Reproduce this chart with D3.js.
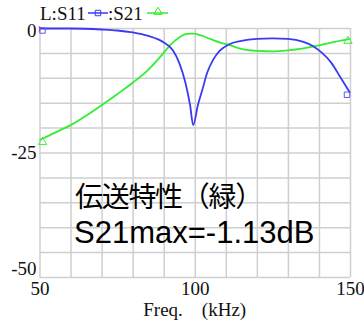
<!DOCTYPE html>
<html>
<head>
<meta charset="utf-8">
<script src="https://cdn.jsdelivr.net/npm/d3@7"></script>
<style>
  body { margin: 0; background: #fff; }
</style>
</head>
<body>
<div id="chart"></div>
<script>
// frequency (kHz) and S-parameters (dB)
const s11Freq = [50, 60, 70, 75, 80, 85, 90, 93, 95, 97, 98.5, 99.5, 101, 102.5, 104, 106, 108, 111, 115, 120, 125, 130, 135, 138, 141, 144, 147, 150];
const s11Db   = [-0.1, -0.1, -0.3, -0.5, -0.9, -1.6, -2.9, -4.5, -7, -11, -15.5, -19.5, -15.5, -12.3, -9, -6.3, -4.6, -3.3, -2.6, -2.2, -2.1, -2.2, -2.8, -3.6, -5, -7, -10, -13];
const s21Freq = [50, 55, 60, 65, 70, 75, 80, 85, 90, 92, 95, 97.5, 99.5, 102, 105, 108, 111, 115, 120, 125, 130, 135, 140, 145, 150];
const s21Db   = [-22.5, -21, -19.5, -17.6, -15.5, -13.3, -11, -8.4, -5, -3.5, -1.9, -1.2, -1.13, -1.5, -2.2, -2.9, -3.4, -4.2, -4.6, -4.7, -4.5, -4.1, -3.5, -2.8, -2.2];
const xTickLabels = [50, 100, 150];
const yTickLabels = [0, -25, -50];

const width = 364, height = 323;
const margin = {top: 28, right: 14, bottom: 46, left: 39.5};

const svg = d3.select("#chart").append("svg")
  .attr("width", width)
  .attr("height", height);

const x = d3.scaleLinear().domain([50, 150]).range([margin.left, width - margin.right]);
const y = d3.scaleLinear().domain([-50, 0]).range([height - margin.bottom, margin.top]);

const serif = "'Liberation Serif', 'DejaVu Serif', serif";

// grid
svg.append("g")
  .attr("transform", `translate(0,${y(-50)})`)
  .call(d3.axisBottom(x).tickValues(d3.range(50, 151, 10)).tickSize(-(y(-50) - y(0))).tickFormat(""))
  .call(g => g.select(".domain").remove())
  .call(g => g.selectAll("line").attr("stroke", "#cfcfcf").attr("stroke-width", 1.5));

svg.append("g")
  .attr("transform", `translate(${x(50)},0)`)
  .call(d3.axisLeft(y).tickValues(d3.range(-50, 1, 5)).tickSize(-(x(150) - x(50))).tickFormat(""))
  .call(g => g.select(".domain").remove())
  .call(g => g.selectAll("line").attr("stroke", "#cfcfcf").attr("stroke-width", 1.5));

// little red mark at the top-left corner
svg.append("line")
  .attr("x1", x(50)).attr("x2", x(50))
  .attr("y1", y(0) - 2).attr("y2", y(0) + 4)
  .attr("stroke", "#ff6060").attr("stroke-width", 1.5);

// tick labels
svg.append("g")
  .attr("transform", `translate(0,${y(-50)})`)
  .call(d3.axisBottom(x).tickValues(xTickLabels).tickSize(0).tickPadding(5))
  .call(g => g.select(".domain").remove())
  .call(g => g.selectAll("text").attr("font-family", serif).attr("font-size", 19).attr("fill", "#111"));

svg.append("g")
  .attr("transform", `translate(${x(50)},0)`)
  .call(d3.axisLeft(y).tickValues(yTickLabels).tickSize(0).tickPadding(3).tickFormat(d => d < 0 ? "-" + Math.abs(d) : d))
  .call(g => g.select(".domain").remove())
  .call(g => g.selectAll("text")
    .attr("font-family", serif).attr("font-size", 19).attr("fill", "#111")
    .attr("dy", d => d === -50 ? "-0.15em" : d === 0 ? "0.45em" : "0.3em"));

svg.append("text")
  .attr("x", x(100))
  .attr("y", 316)
  .attr("text-anchor", "middle")
  .attr("font-family", serif)
  .attr("font-size", 19)
  .attr("fill", "#111")
  .text("Freq.　(kHz)");

// curves
const s11 = s11Freq.map((f, i) => [f, s11Db[i]]);
const s21 = s21Freq.map((f, i) => [f, s21Db[i]]);

const line = d3.line()
  .x(d => x(d[0]))
  .y(d => y(d[1]))
  .curve(d3.curveMonotoneX);

svg.append("path")
  .datum(s21)
  .attr("fill", "none")
  .attr("stroke", "#33ee33")
  .attr("stroke-width", 1.8)
  .attr("d", line);

svg.append("path")
  .datum(s11)
  .attr("fill", "none")
  .attr("stroke", "#3a3af5")
  .attr("stroke-width", 1.8)
  .attr("d", line);

// end markers
const square = d3.symbol().type(d3.symbolSquare).size(30);
const triangle = d3.symbol().type(d3.symbolTriangle).size(30);

svg.append("g")
  .selectAll("path")
  .data([s11[0], s11[s11.length - 1]])
  .join("path")
  .attr("transform", (d, i) => `translate(${x(d[0]) + (i ? -3 : 3)},${y(d[1]) + 2})`)
  .attr("d", square)
  .attr("fill", "none")
  .attr("stroke", "#5a5af5")
  .attr("stroke-width", 1);

svg.append("g")
  .selectAll("path")
  .data([s21[0], s21[s21.length - 1]])
  .join("path")
  .attr("transform", (d, i) => `translate(${x(d[0]) + (i ? -2 : 3)},${y(d[1]) + 2})`)
  .attr("d", triangle)
  .attr("fill", "none")
  .attr("stroke", "#44ee44")
  .attr("stroke-width", 1);

// legend
const legend = svg.append("g")
  .attr("font-family", serif)
  .attr("font-size", 19)
  .attr("fill", "#111");

legend.append("text").attr("x", 40).attr("y", 20).text("L:S11");
legend.append("line").attr("x1", 88).attr("x2", 108).attr("y1", 13).attr("y2", 13)
  .attr("stroke", "#3a3af5").attr("stroke-width", 1.5);
legend.append("path").attr("transform", "translate(98,13)").attr("d", square)
  .attr("fill", "none").attr("stroke", "#3a3af5");
legend.append("text").attr("x", 108).attr("y", 20).text(":S21");
legend.append("line").attr("x1", 147).attr("x2", 168).attr("y1", 13).attr("y2", 13)
  .attr("stroke", "#33ee33").attr("stroke-width", 1.5);
legend.append("path").attr("transform", "translate(158,12)").attr("d", triangle)
  .attr("fill", "none").attr("stroke", "#33ee33");

// annotation
svg.append("text")
  .attr("x", 75)
  .attr("y", 207)
  .attr("font-family", "'Noto Sans CJK JP', sans-serif")
  .attr("font-size", 28)
  .attr("letter-spacing", -1.3)
  .attr("fill", "#000")
  .text("伝送特性（緑）");

svg.append("text")
  .attr("x", 74)
  .attr("y", 243)
  .attr("font-family", "'Liberation Sans', Arial, sans-serif")
  .attr("font-size", 31)
  .attr("fill", "#000")
  .text("S21max=-1.13dB");
</script>
</body>
</html>
